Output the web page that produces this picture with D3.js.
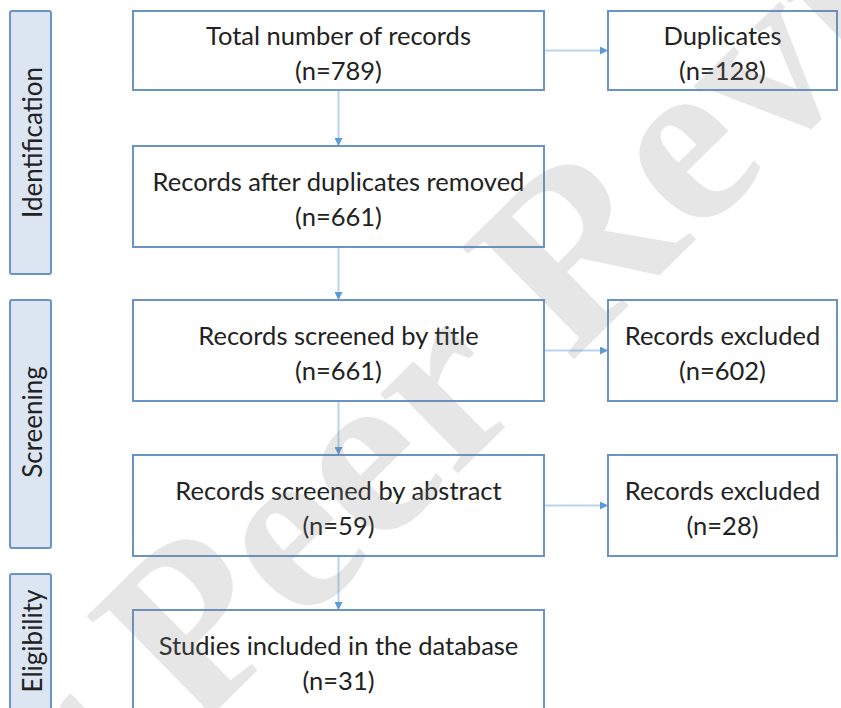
<!DOCTYPE html>
<html>
<head>
<meta charset="utf-8">
<script src="https://cdn.jsdelivr.net/npm/d3@7"></script>
<style>
  html, body { margin: 0; padding: 0; background: #fff; }
  svg { display: block; }
</style>
</head>
<body>
<svg id="chart" width="841" height="708"></svg>
<script>
// ---- data ----
const stages = ["Identification", "Screening", "Eligibility"];
const mainLabels = [
  "Total number of records",
  "Records after duplicates removed",
  "Records screened by title",
  "Records screened by abstract",
  "Studies included in the database"
];
const mainCounts = [789, 661, 661, 59, 31];
const sideLabels = ["Duplicates", "Records excluded", "Records excluded"];
const sideCounts = [128, 602, 28];
const sideFrom = [0, 2, 3];          // main-box index each side box branches from
const watermark = "For Peer Review";

// ---- layout ----
const svg = d3.select("#chart");
const font = "Lato, 'Open Sans', sans-serif";
const boxStroke = "#6a93c6";
const arrowLine = "#b9d3ef";
const arrowHead = "#5b9bd5";

const rowTop = [11, 146, 300, 455, 610];
const rowH = [79, 101, 101, 101, 101];
const mainX = d3.scaleLinear().domain([0, 1]).range([133, 544]);
const sideX = d3.scaleLinear().domain([0, 1]).range([608, 837]);
const stageSpan = [[11, 274], [300, 548], [574, 720]];

svg.append("defs").append("marker")
  .attr("id", "ah").attr("viewBox", "0 0 10 10")
  .attr("refX", 10).attr("refY", 5)
  .attr("markerWidth", 8).attr("markerHeight", 8)
  .attr("markerUnits", "userSpaceOnUse")
  .attr("orient", "auto")
  .append("path").attr("d", "M0,0L10,5L0,10Z").attr("fill", arrowHead);

// stage labels
const st = svg.append("g").selectAll("g").data(stages).join("g");
st.append("rect")
  .attr("x", 10).attr("width", 41)
  .attr("y", (d, i) => stageSpan[i][0])
  .attr("height", (d, i) => stageSpan[i][1] - stageSpan[i][0])
  .attr("rx", 2)
  .attr("fill", "#dce6f2").attr("stroke", boxStroke).attr("stroke-width", 2);
st.append("text")
  .attr("transform", (d, i) => {
    const cy = i === 2 ? 641 : (stageSpan[i][0] + stageSpan[i][1]) / 2 + (i === 0 ? 0 : -2);
    return `translate(32,${cy}) rotate(-90)`;
  })
  .attr("text-anchor", "middle").attr("dominant-baseline", "central")
  .attr("font-family", font).attr("font-size", 26).attr("fill", "#222")
  .text(d => d);

// arrows (vertical)
const arrows = svg.append("g");
d3.range(mainLabels.length - 1).forEach(i => {
  const x = (mainX(0) + mainX(1)) / 2;
  arrows.append("line")
    .attr("x1", x).attr("x2", x)
    .attr("y1", rowTop[i] + rowH[i]).attr("y2", rowTop[i + 1])
    .attr("stroke", arrowLine).attr("stroke-width", 2)
    .attr("marker-end", "url(#ah)");
});
// arrows (horizontal)
sideFrom.forEach((m, i) => {
  const y = rowTop[m] + rowH[m] / 2;
  arrows.append("line")
    .attr("x1", mainX(1)).attr("x2", sideX(0))
    .attr("y1", y).attr("y2", y)
    .attr("stroke", arrowLine).attr("stroke-width", 2)
    .attr("marker-end", "url(#ah)");
});

function drawBox(g, x0, x1, top, h, label, count) {
  g.append("rect")
    .attr("x", x0).attr("y", top).attr("width", x1 - x0).attr("height", h)
    .attr("fill", "#fff").attr("stroke", boxStroke).attr("stroke-width", 2);
  const cx = (x0 + x1) / 2, cy = top + h / 2;
  const t = g.append("text")
    .attr("text-anchor", "middle")
    .attr("font-family", font).attr("font-size", 25.5).attr("fill", "#222");
  t.append("tspan").attr("x", cx).attr("y", cy - 16).attr("dominant-baseline", "central").text(label);
  t.append("tspan").attr("x", cx).attr("y", cy + 19).attr("dominant-baseline", "central").text(`(n=${count})`);
}

const boxes = svg.append("g");
mainLabels.forEach((lab, i) => {
  drawBox(boxes, mainX(0), mainX(1), rowTop[i], rowH[i], lab, mainCounts[i]);
});
sideLabels.forEach((lab, i) => {
  const m = sideFrom[i];
  drawBox(boxes, sideX(0), sideX(1), rowTop[m], rowH[m], lab, sideCounts[i]);
});

// watermark
svg.append("text")
  .attr("transform", "translate(439,377) rotate(-44.5)")
  .attr("text-anchor", "middle").attr("dominant-baseline", "central")
  .attr("font-family", "'Liberation Serif', 'DejaVu Serif', serif")
  .attr("font-weight", "bold").attr("font-size", 242)
  .attr("fill", "#808080").attr("fill-opacity", 0.2)
  .text(watermark);
</script>
</body>
</html>
